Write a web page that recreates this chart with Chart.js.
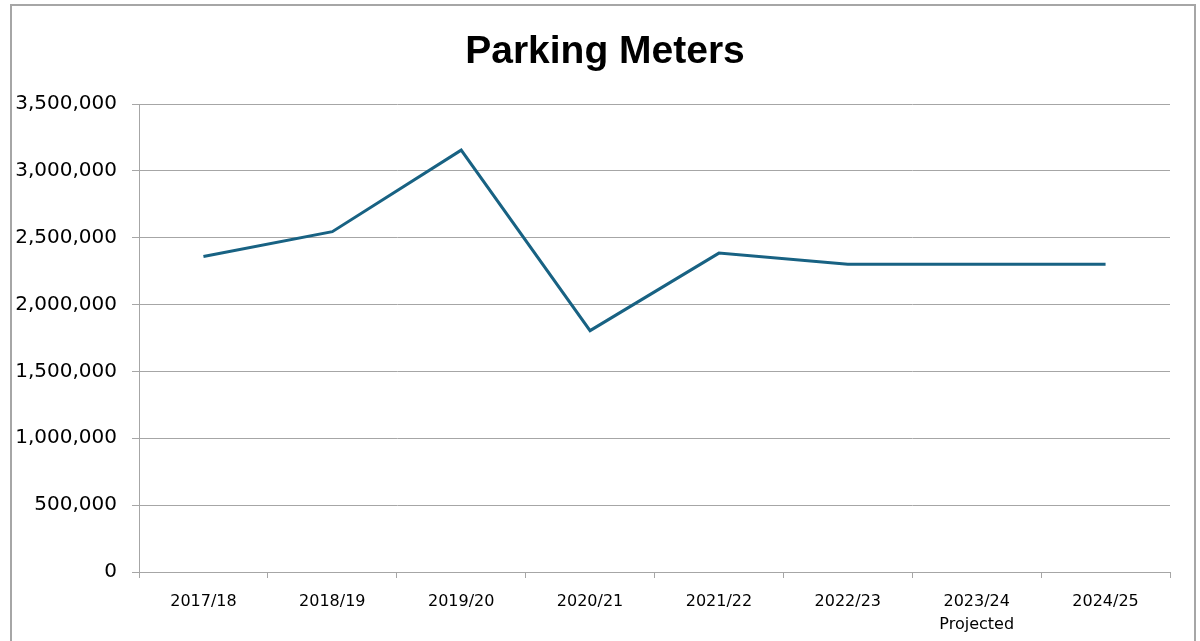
<!DOCTYPE html>
<html>
<head>
<meta charset="utf-8">
<script src="https://cdn.jsdelivr.net/npm/chart.js@4/dist/chart.umd.min.js"></script>
<style>
  html, body { margin: 0; padding: 0; background: #fff; }
  body { width: 1200px; height: 641px; position: relative; overflow: hidden; }
  .frame { position: absolute; left: 10px; top: 4px; width: 1182px; height: 700px; border: 2px solid #a6a6a6; }
  .wrap { position: absolute; left: 0; top: 0; width: 1200px; height: 641px; }
</style>
</head>
<body>
<div class="frame"></div>
<div class="wrap"><canvas id="chart"></canvas></div>
<script>
const chartTitle = 'Parking Meters';
const years = ['2017/18', '2018/19', '2019/20', '2020/21', '2021/22', '2022/23', ['2023/24', 'Projected'], '2024/25'];
const meterRevenue = [2360000, 2545000, 3155000, 1805000, 2385000, 2302000, 2302000, 2302000];
const yTicks = [0, 500000, 1000000, 1500000, 2000000, 2500000, 3000000, 3500000];

const gridColor = '#a6a6a6';
const tickFont = 'DejaVu Sans, Liberation Sans, sans-serif';

// title sits a little left of the plot centre in the original, so draw it by hand
const titlePlugin = {
  id: 'offsetTitle',
  afterDraw(chart) {
    const c = chart.ctx;
    c.save();
    c.font = 'bold 39px "Liberation Sans", Arial, sans-serif';
    c.fillStyle = '#000';
    c.textAlign = 'center';
    c.textBaseline = 'alphabetic';
    c.fillText(chartTitle, 605, 63);
    c.restore();
  }
};

new Chart(document.getElementById('chart'), {
  type: 'line',
  data: {
    labels: years,
    datasets: [{
      label: chartTitle,
      data: meterRevenue,
      borderColor: '#186283',
      borderWidth: 3,
      pointRadius: 0,
      tension: 0,
      fill: false
    }]
  },
  options: {
    responsive: true,
    maintainAspectRatio: false,
    animation: false,
    layout: { padding: { left: 0, right: 30, top: 104, bottom: 0 } },
    plugins: {
      legend: { display: false },
      tooltip: { enabled: false },
      title: { display: false }
    },
    scales: {
      x: {
        offset: true,
        grid: {
          offset: true,
          drawOnChartArea: false,
          color: gridColor,
          tickLength: 6
        },
        border: { color: gridColor },
        ticks: {
          color: '#000',
          font: { family: tickFont, size: 16, lineHeight: 1.45 },
          padding: 12,
          maxRotation: 0,
          autoSkip: false
        },
        afterFit: (scale) => { scale.height = 69; }
      },
      y: {
        min: 0,
        max: 3500000,
        afterBuildTicks: (scale) => { scale.ticks = yTicks.map((v) => ({ value: v })); },
        grid: { color: gridColor, tickLength: 7 },
        border: { color: gridColor },
        ticks: {
          color: '#000',
          font: { family: tickFont, size: 20 },
          padding: 15,
          callback: (v) => v.toLocaleString('en-US')
        },
        afterFit: (scale) => { scale.width = 139; }
      }
    }
  },
  plugins: [titlePlugin]
});
</script>
</body>
</html>
